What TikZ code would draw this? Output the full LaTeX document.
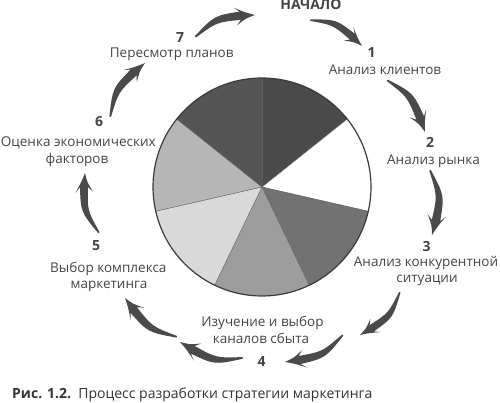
\documentclass[tikz,border=0pt]{standalone}
\usepackage{fontspec}
\setmainfont{Open Sans}
\usetikzlibrary{calc}
\definecolor{txt}{HTML}{444444}
\definecolor{arr}{HTML}{4A4A4A}
\definecolor{rim}{HTML}{3A3A3A}
\tikzset{
  lbl/.style={text=txt, font=\fontsize{13.5}{16}\selectfont, inner sep=0pt, anchor=base},
  num/.style={text=txt, font=\fontsize{14}{16}\selectfont\bfseries, inner sep=0pt, anchor=base},
  swoosh/.pic={
    \fill[arr] (0,0.012) .. controls (0.40,0.21) .. (0.794,0.132)
      -- (0.722,0.225) .. controls (0.87,0.09) .. (1,0)
      .. controls (0.84,0.0) .. (0.678,-0.058)
      -- (0.766,0.005) .. controls (0.40,0.10) .. (0.01,-0.012) -- cycle;
  }
}
\newcommand\swooshto[2]{%
  \pgfpointdiff{\pgfpointanchor{#1}{center}}{\pgfpointanchor{#2}{center}}%
  \pgfgetlastxy\swdx\swdy
  \pgfmathsetmacro\swang{atan2(\swdy,\swdx)}%
  \pgfmathsetmacro\swlen{veclen(\swdx,\swdy)}%
  \pic[rotate=\swang, x=\swlen pt, y=\swlen pt] at (#1) {swoosh};%
}
\begin{document}
\begin{tikzpicture}[x=1pt,y=1pt]
\useasboundingbox (0,0) rectangle (500,403);
% pie
\coordinate (pc) at (262,216);
\foreach \a/\b/\c in {90/38.571/4A4A4A, 38.571/-12.857/FFFFFF, -12.857/-64.286/727272,
  -64.286/-115.714/9D9D9D, -115.714/-167.143/D9D9D9, -167.143/-218.571/B6B6B6, -218.571/-270/555555}{
  \definecolor{slc}{HTML}{\c}
  \fill[slc] (pc) -- ([shift={(\a:109)}]pc) arc[start angle=\a, end angle=\b, radius=109] -- cycle;
  \draw[rim!80, line width=0.5pt] (pc) -- ([shift={(\a:109)}]pc);
}
\draw[rim, line width=1.2pt] (pc) circle[radius=109];
% labels
\node[num] (start) at (311,393) {НАЧАЛО};
\node[num] (n1) at (371.5,345) {1};
\node[lbl] (t1) at (385,328) {Анализ клиентов};
\node[num] (n2) at (430,255.5) {2};
\node[lbl] (t2) at (433.5,238) {Анализ рынка};
\node[num] (n3) at (426.5,151.5) {3};
\node[lbl] (t3a) at (426,136.3) {Анализ конкурентной};
\node[lbl] (t3b) at (427,120) {ситуации};
\node[lbl] (t4a) at (262.5,76) {Изучение и выбор};
\node[lbl] (t4b) at (261,59.5) {каналов сбыта};
\node[num] (n4) at (261.7,36.3) {4};
\node[num] (n5) at (96,152) {5};
\node[lbl] (t5a) at (108.3,130.3) {Выбор комплекса};
\node[lbl] (t5b) at (109,114) {маркетинга};
\node[num] (n6) at (99,276.3) {6};
\node[lbl] (t6a) at (78.3,256.3) {Оценка экономических};
\node[lbl] (t6b) at (77,239.7) {факторов};
\node[num] (n7) at (180,360.7) {7};
\node[lbl] (t7) at (171.7,345.7) {Пересмотр планов};
\node[lbl, anchor=base west, text=black!80, font=\fontsize{14}{16}\selectfont] (cap) at (12,4) {\textbf{Рис. 1.2.}\ \ Процесс разработки стратегии маркетинга};
% arrow ends
\coordinate (aAt) at (195,366); \coordinate (aAh) at (255,388);
\coordinate (aBt) at (310,383); \coordinate (aBh) at (362,357);
\coordinate (aCt) at (387,323); \coordinate (aCh) at (425,271);
\coordinate (aDt) at (430,233); \coordinate (aDh) at (432,168);
\coordinate (aEt) at (400,111); \coordinate (aEh) at (360,68);
\coordinate (aFt) at (343,68);  \coordinate (aFh) at (285,41);
\coordinate (aGt) at (243,45);  \coordinate (aGh) at (180,61);
\coordinate (aHt) at (177,66);  \coordinate (aHh) at (125,105);
\coordinate (aIt) at (99,170);  \coordinate (aIh) at (85,230);
\coordinate (aJt) at (110,286); \coordinate (aJh) at (145,340);
\swooshto{aAt}{aAh}
\swooshto{aBt}{aBh}
\swooshto{aCt}{aCh}
\swooshto{aDt}{aDh}
\swooshto{aEt}{aEh}
\swooshto{aFt}{aFh}
\swooshto{aGt}{aGh}
\swooshto{aHt}{aHh}
\swooshto{aIt}{aIh}
\swooshto{aJt}{aJh}
\end{tikzpicture}
\end{document}
